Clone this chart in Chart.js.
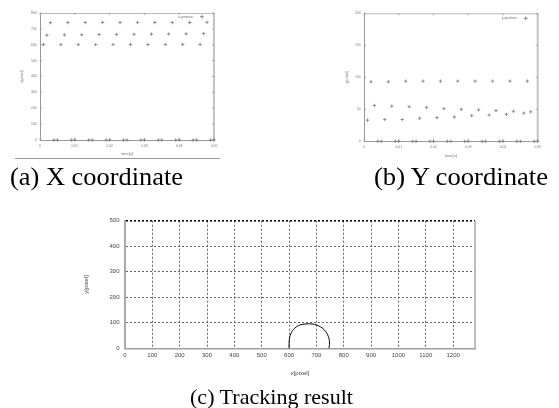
<!DOCTYPE html>
<html><head><meta charset="utf-8">
<script src="https://cdn.jsdelivr.net/npm/chart.js"></script>
<style>
html,body{margin:0;padding:0;background:#fff;}
body{width:559px;height:408px;position:relative;overflow:hidden;}
canvas{position:absolute;}
.cap{position:absolute;font-family:"Liberation Serif","Times New Roman",serif;line-height:1;white-space:nowrap;color:#000;transform-origin:0 0;}
</style></head><body>
<canvas id="ca" width="230" height="160" style="left:0;top:0"></canvas>
<canvas id="cb" width="239" height="160" style="left:320px;top:0"></canvas>
<canvas id="cc" width="420" height="180" style="left:70px;top:205px"></canvas>
<div style="position:absolute;left:15px;top:158px;width:205px;height:1px;background:#999"></div>
<div class="cap" id="capA" style="left:10px;top:164px;font-size:25px">(a) X coordinate</div>
<div class="cap" id="capB" style="left:374px;top:164px;font-size:25px">(b) Y coordinate</div>
<div class="cap" id="capC" style="left:190px;top:385.6px;font-size:22px">(c) Tracking result</div>
<script>
// ---------- data ----------
const timeS = [0.001,0.002,0.003,0.004,0.005,0.006,0.007,0.008,0.009,0.010,
  0.011,0.012,0.013,0.014,0.015,0.016,0.017,0.018,0.019,0.020,
  0.021,0.022,0.023,0.024,0.025,0.026,0.027,0.028,0.029,0.030,
  0.031,0.032,0.033,0.034,0.035,0.036,0.037,0.038,0.039,0.040,
  0.041,0.042,0.043,0.044,0.045,0.046,0.047,0.048,0.049,0.050];
const xPosition = [601,660,739,0,0, 601,662,740,0,0, 601,663,740,0,0, 601,664,740,0,0, 601,665,740,0,0,
  601,666,740,0,0, 601,667,740,0,0, 601,668,740,0,0, 601,669,740,0,0, 602,670,741,0,0];
const yPosition = [33,93,56,0,0, 34,93,55,0,0, 34,94,54,0,0, 36,94,53,0,0, 37,94,51,0,0,
  38,94,50,0,0, 40,94,49,0,0, 41,94,48,0,0, 42,94,47,0,0, 44,94,46,0,0];
const arcX = [600,600,601,604,609,617,628,642,658,675,692,708,722,733,741,746,748,747,746];
const arcY = [0,18,35,50,63,75,85,92,95,96,94,88,79,67,53,38,22,8,0];
const timeTickLabels = ['0','0.01','0.02','0.03','0.04','0.05'];
const xPixelTicks = ['0','100','200','300','400','500','600','700','800'];
const yPixelTicksA = ['0','100','200','300','400','500','600','700','800'];
const yPixelTicksB = ['0','50','100','150','200'];
const trackXTicks = ['0','100','200','300','400','500','600','700','800','900','1000','1100','1200'];
const trackYTicks = ['0','100','200','300','400','500'];

// ---------- plugins ----------
const framePlugin = {
  id: 'frame',
  beforeDatasetsDraw(chart, args, o) {
    if (!o || !o.on) return;
    const {ctx, chartArea: {left, right, top, bottom}} = chart;
    ctx.save();
    ctx.lineWidth = 1;
    ctx.strokeStyle = o.topColor; ctx.beginPath(); ctx.moveTo(left, top + 0.5); ctx.lineTo(right, top + 0.5); ctx.stroke();
    ctx.lineWidth = o.rightWidth; ctx.strokeStyle = o.rightColor;
    ctx.beginPath(); ctx.moveTo(right, top); ctx.lineTo(right, bottom); ctx.stroke();
    if (o.ticks) {
      ctx.lineWidth = 0.8; ctx.strokeStyle = o.tickColor;
      const xs = chart.scales.x, ys = chart.scales.y, L = o.ticks;
      xs.ticks.forEach(t => {
        const p = xs.getPixelForValue(t.value);
        ctx.beginPath(); ctx.moveTo(p, bottom); ctx.lineTo(p, bottom - L);
        ctx.moveTo(p, top); ctx.lineTo(p, top + L); ctx.stroke();
      });
      ys.ticks.forEach(t => {
        const p = ys.getPixelForValue(t.value);
        ctx.beginPath(); ctx.moveTo(left, p); ctx.lineTo(left + L, p);
        ctx.moveTo(right, p); ctx.lineTo(right - L, p); ctx.stroke();
      });
    }
    ctx.restore();
  },
  afterDatasetsDraw(chart, args, o) {
    if (!o || !o.legend) return;
    const {ctx, chartArea: {right, top}} = chart;
    const lg = o.legend;
    ctx.save();
    ctx.font = lg.size + 'px "Liberation Sans", Arial, sans-serif';
    ctx.fillStyle = lg.color; ctx.textAlign = 'right'; ctx.textBaseline = 'middle';
    const y = top + lg.dy;
    ctx.fillText(lg.text, right - lg.textRight, y);
    const mx = right - lg.markRight, r = lg.r;
    ctx.strokeStyle = lg.markColor; ctx.lineWidth = 0.8;
    ctx.beginPath(); ctx.moveTo(mx - r, y); ctx.lineTo(mx + r, y); ctx.moveTo(mx, y - r); ctx.lineTo(mx, y + r); ctx.stroke();
    ctx.restore();
  }
};
Chart.register(framePlugin);

const SANS = '"Liberation Sans", Arial, sans-serif';

function smallChart(id, values, yMax, yStep, yLabels, label, geo) {
  return new Chart(document.getElementById(id), {
    type: 'scatter',
    data: { datasets: [{
      label: label,
      data: timeS.map((t, i) => ({x: t, y: values[i]})),
      pointStyle: 'cross', pointRadius: 1.7, borderWidth: 0.8,
      borderColor: '#7a7a7a', backgroundColor: '#7a7a7a', clip: false
    }]},
    options: {
      responsive: false, animation: false, events: [],
      layout: { padding: {left: 0, top: geo.T, right: geo.W - geo.R, bottom: 0} },
      plugins: {
        legend: {display: false}, tooltip: {enabled: false},
        frame: { on: true, topColor: '#bbb', rightColor: '#c4c4c4', rightWidth: 2, ticks: 2, tickColor: '#999',
          legend: {text: label, size: 3.5, color: '#777', textRight: 21, markRight: 12, dy: geo.ldy, r: 2, markColor: '#777'} }
      },
      scales: {
        x: {
          type: 'linear', min: 0, max: 0.05,
          afterFit: s => { s.height = geo.H - geo.B; },
          grid: {display: false, drawTicks: false},
          border: {display: true, color: '#999', width: 1},
          ticks: { stepSize: 0.01, padding: geo.xtp, color: '#777', font: {size: 3.4, family: SANS},
            callback: (v, i) => timeTickLabels[i] },
          title: { display: true, text: 'time[s]', color: '#777', font: {size: 4, family: SANS}, padding: {top: 0, bottom: geo.xtt} }
        },
        y: {
          min: 0, max: yMax,
          afterFit: s => { s.width = geo.L; },
          grid: {display: false, drawTicks: false},
          border: {display: true, color: '#999', width: 1},
          ticks: { stepSize: yStep, padding: 3.3, color: '#777', font: {size: 3.4, family: SANS},
            callback: (v, i) => yLabels[i] },
          title: { display: true, text: label === 'x-position' ? 'x[pixel]' : 'y[pixel]', color: '#777',
            font: {size: 4, family: SANS}, padding: {top: geo.ytt, bottom: 0} }
        }
      }
    }
  });
}

smallChart('ca', xPosition, 800, 100, yPixelTicksA, 'x-position',
  {W: 230, H: 160, L: 40, T: 13, R: 214, B: 140, xtp: 3.66, xtt: 3.3, ytt: 19.3, ldy: 3.7});
smallChart('cb', yPosition, 200, 50, yPixelTicksB, 'y-position',
  {W: 239, H: 160, L: 44, T: 13.3, R: 217.7, B: 141.3, xtp: 3.36, xtt: 1.9, ytt: 24.6, ldy: 5});

// ---------- tracking result ----------
new Chart(document.getElementById('cc'), {
  type: 'scatter',
  data: { datasets: [{
    data: arcX.map((x, i) => ({x: x, y: arcY[i]})),
    showLine: true, tension: 0.4, pointRadius: 0, borderColor: '#000', borderWidth: 1, clip: false
  }]},
  options: {
    responsive: false, animation: false, events: [],
    layout: { padding: {left: 0, top: 15.7, right: 15, bottom: 0} },
    plugins: {
      legend: {display: false}, tooltip: {enabled: false},
      frame: { on: true, topColor: 'rgba(0,0,0,0)', rightColor: '#aaa', rightWidth: 1.5, ticks: 0 }
    },
    scales: {
      x: {
        type: 'linear', min: 0, max: 1280,
        afterFit: s => { s.height = 180 - 143.3; },
        grid: { drawTicks: false, lineWidth: 1,
          color: c => (c.index === 0 ? 'rgba(0,0,0,0)' : '#666') },
        border: {display: true, color: '#a0a0a0', width: 1.5, dash: [2, 2]},
        ticks: { stepSize: 100, includeBounds: false, padding: 3.6, color: '#444', font: {size: 6, family: SANS},
          callback: (v, i) => trackXTicks[i] },
        title: { display: true, text: 'x[pixel]', color: '#444', font: {size: 6, family: SANS}, padding: {top: 0, bottom: 8.1} }
      },
      y: {
        min: 0, max: 500,
        afterFit: s => { s.width = 55; },
        grid: { drawTicks: false,
          lineWidth: c => (c.index === 5 ? 1.6 : 1),
          color: c => (c.index === 0 ? 'rgba(0,0,0,0)' : (c.index === 5 ? '#000' : '#666')) },
        border: {display: true, color: '#aaa', width: 2, dash: [2, 2]},
        ticks: { stepSize: 100, padding: 5.5, color: '#444', font: {size: 6, family: SANS},
          callback: (v, i) => trackYTicks[i] },
        title: { display: true, text: 'y[pixel]', color: '#444', font: {size: 6, family: SANS}, padding: {top: 12.4, bottom: 0} }
      }
    }
  }
});

// captions: stretch horizontally to the reference width
function fitCaption(id, width) {
  const el = document.getElementById(id);
  const w = el.getBoundingClientRect().width;
  if (w > 0) el.style.transform = 'scaleX(' + (width / w) + ')';
}
fitCaption('capA', 173);
fitCaption('capB', 174);
fitCaption('capC', 163);
</script>
</body></html>
